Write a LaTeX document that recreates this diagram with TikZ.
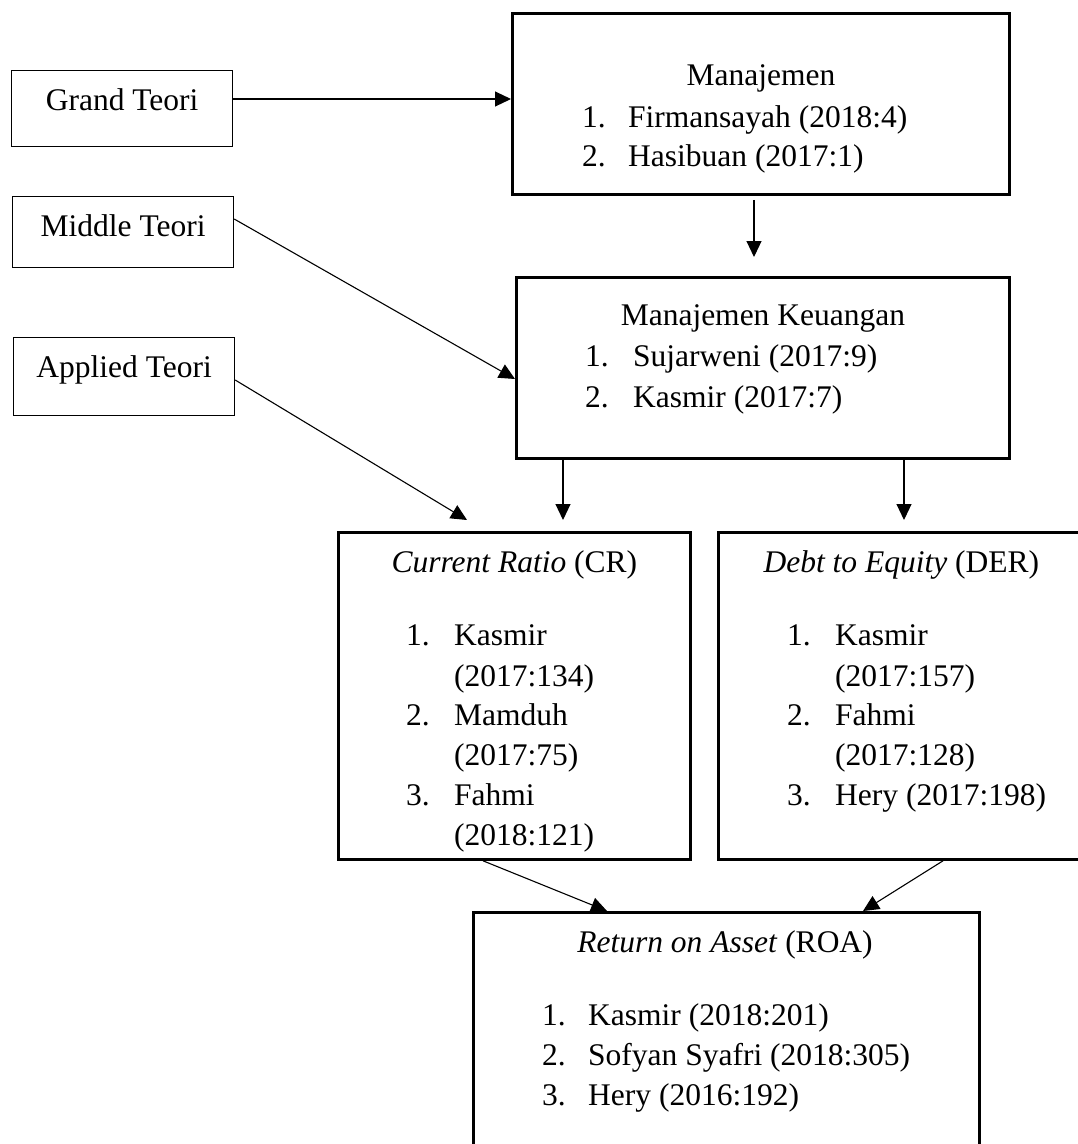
\documentclass[tikz,border=0pt]{standalone}
\usepackage{fontspec}
\setmainfont{Liberation Serif}
\usetikzlibrary{arrows.meta,calc}
\begin{document}
\begin{tikzpicture}[x=1pt,y=-1pt,
  every node/.style={font=\fontsize{31.5}{40}\selectfont, inner sep=0pt},
  thinbox/.style={draw, line width=1.2pt, anchor=north west, inner sep=0pt},
  thickbox/.style={draw, line width=2.8pt, anchor=north west, inner sep=0pt},
  arr/.style={line width=1.1pt, -{Triangle[length=16pt,width=15pt]}},
  txt/.style={anchor=base west},
  ttl/.style={anchor=base}]
\clip (0,0) rectangle (1078,1144);
\fill[white] (0,0) rectangle (1078,1144);
% boxes
\node[thinbox, minimum width=221pt, minimum height=76pt] (grand) at (11,70) {};
\node[thinbox, minimum width=221pt, minimum height=71pt] (middle) at (12,196) {};
\node[thinbox, minimum width=221pt, minimum height=78pt] (applied) at (13,337) {};
\node[thickbox, minimum width=497pt, minimum height=181pt] (man) at (511,12) {};
\node[thickbox, minimum width=493pt, minimum height=181pt] (mk) at (515,276) {};
\node[thickbox, minimum width=352pt, minimum height=327pt] (cr) at (337,531) {};
\node[thickbox, minimum width=366pt, minimum height=327pt] (der) at (717,531) {};
\node[thickbox, minimum width=506pt, minimum height=270pt] (roa) at (472,911) {};
% left texts
\node[ttl] (grandT) at ([yshift=-40pt]grand.north) {Grand Teori};
\node[ttl] (middleT) at ([yshift=-40pt]middle.north) {Middle Teori};
\node[ttl] (appliedT) at ([yshift=-40pt]applied.north) {Applied Teori};
% Manajemen
\node[ttl] (manT) at ([yshift=-73pt]man.north) {Manajemen};
\node[txt] (manN1) at ([xshift=71pt,yshift=-115pt]man.north west) {1.};
\node[txt] (manI1) at ([xshift=117pt,yshift=-115pt]man.north west) {Firmansayah (2018:4)};
\node[txt] (manN2) at ([xshift=71pt,yshift=-154pt]man.north west) {2.};
\node[txt] (manI2) at ([xshift=117pt,yshift=-154pt]man.north west) {Hasibuan (2017:1)};
% Manajemen Keuangan
\node[ttl] (mkT) at ([yshift=-49pt]mk.north) {Manajemen Keuangan};
\node[txt] (mkN1) at ([xshift=70pt,yshift=-90pt]mk.north west) {1.};
\node[txt] (mkI1) at ([xshift=118pt,yshift=-90pt]mk.north west) {Sujarweni (2017:9)};
\node[txt] (mkN2) at ([xshift=70pt,yshift=-131pt]mk.north west) {2.};
\node[txt] (mkI2) at ([xshift=118pt,yshift=-131pt]mk.north west) {Kasmir (2017:7)};
% CR
\node[ttl] (crT) at ([yshift=-41pt]cr.north) {\textit{Current Ratio} (CR)};
\node[txt] (crN1) at ([xshift=69pt,yshift=-114pt]cr.north west) {1.};
\node[txt] (crI1) at ([xshift=117pt,yshift=-114pt]cr.north west) {Kasmir};
\node[txt] (crI1b) at ([xshift=117pt,yshift=-155pt]cr.north west) {(2017:134)};
\node[txt] (crN2) at ([xshift=69pt,yshift=-194pt]cr.north west) {2.};
\node[txt] (crI2) at ([xshift=117pt,yshift=-194pt]cr.north west) {Mamduh};
\node[txt] (crI2b) at ([xshift=117pt,yshift=-234pt]cr.north west) {(2017:75)};
\node[txt] (crN3) at ([xshift=69pt,yshift=-274pt]cr.north west) {3.};
\node[txt] (crI3) at ([xshift=117pt,yshift=-274pt]cr.north west) {Fahmi};
\node[txt] (crI3b) at ([xshift=117pt,yshift=-314pt]cr.north west) {(2018:121)};
% DER
\node[ttl] (derT) at ([yshift=-41pt]der.north) {\textit{Debt to Equity} (DER)};
\node[txt] (derN1) at ([xshift=70pt,yshift=-114pt]der.north west) {1.};
\node[txt] (derI1) at ([xshift=118pt,yshift=-114pt]der.north west) {Kasmir};
\node[txt] (derI1b) at ([xshift=118pt,yshift=-155pt]der.north west) {(2017:157)};
\node[txt] (derN2) at ([xshift=70pt,yshift=-194pt]der.north west) {2.};
\node[txt] (derI2) at ([xshift=118pt,yshift=-194pt]der.north west) {Fahmi};
\node[txt] (derI2b) at ([xshift=118pt,yshift=-234pt]der.north west) {(2017:128)};
\node[txt] (derN3) at ([xshift=70pt,yshift=-274pt]der.north west) {3.};
\node[txt] (derI3) at ([xshift=118pt,yshift=-274pt]der.north west) {Hery (2017:198)};
% ROA
\node[ttl] (roaT) at ([xshift=253pt,yshift=-41pt]roa.north west) {\textit{Return on Asset} (ROA)};
\node[txt] (roaN1) at ([xshift=70pt,yshift=-114pt]roa.north west) {1.};
\node[txt] (roaI1) at ([xshift=116pt,yshift=-114pt]roa.north west) {Kasmir (2018:201)};
\node[txt] (roaN2) at ([xshift=70pt,yshift=-154pt]roa.north west) {2.};
\node[txt] (roaI2) at ([xshift=116pt,yshift=-154pt]roa.north west) {Sofyan Syafri (2018:305)};
\node[txt] (roaN3) at ([xshift=70pt,yshift=-194pt]roa.north west) {3.};
\node[txt] (roaI3) at ([xshift=116pt,yshift=-194pt]roa.north west) {Hery (2016:192)};
% connectors
\draw[arr] ([yshift=-29pt]grand.north east) -- ([yshift=-29pt]grand.north east -| man.west);
\draw[arr] ([yshift=-23pt]middle.north east) -- ([yshift=-103pt]mk.north west);
\draw[arr] ([yshift=-43pt]applied.north east) -- ([xshift=130pt,yshift=11pt]cr.north west);
\draw[arr] ([xshift=243pt,yshift=-4pt]man.south west) -- ([xshift=239pt,yshift=19pt]mk.north west);
\draw[arr] ([xshift=48pt]mk.south west) -- ([xshift=226pt,yshift=11pt]cr.north west);
\draw[arr] ([xshift=389pt]mk.south west) -- ([xshift=187pt,yshift=11pt]der.north west);
\draw[arr] ([xshift=146pt]cr.south west) -- ([xshift=135pt]roa.north west);
\draw[arr] ([xshift=226pt]der.south west) -- ([xshift=391pt]roa.north west);
\end{tikzpicture}
\end{document}
